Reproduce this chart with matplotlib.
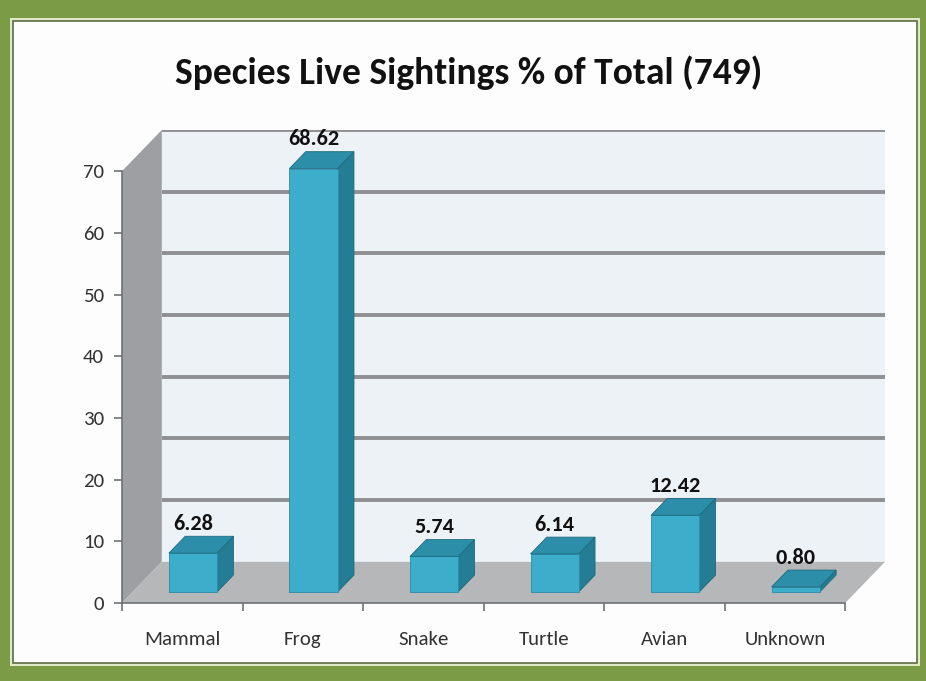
import matplotlib
matplotlib.use("Agg")
import matplotlib.pyplot as plt
from matplotlib.patches import Polygon, Rectangle

# donnees du graphique
categories = ["Mammal", "Frog", "Snake", "Turtle", "Avian", "Unknown"]
valeurs = [6.28, 68.62, 5.74, 6.14, 12.42, 0.80]
etiquettes = ["6.28", "68.62", "5.74", "6.14", "12.42", "0.80"]
graduations = [0, 10, 20, 30, 40, 50, 60, 70]
titre = "Species Live Sightings % of Total (749)"

plt.rcParams['font.family'] = ['Carlito', 'Liberation Sans Narrow', 'DejaVu Sans']

# profondeur de la perspective (en unites des axes)
ox, oy = 0.33, 6.67
ymax = graduations[-1]
n = len(categories)
f0, f1 = 0.27, 0.68     # position avant / arriere des barres dans la profondeur
demi = 0.2

fig = plt.figure(figsize=(9.26, 6.81), dpi=100)
fig.patch.set_facecolor('#7b9b46')

# cadre blanc interieur
fig.patches.append(Rectangle((10/926, 15/681), 910/926, 648/681, transform=fig.transFigure,
                             facecolor='#dfe9c9', edgecolor='none', zorder=-2))
fig.patches.append(Rectangle((13/926, 18/681), 904/926, 642/681, transform=fig.transFigure,
                             facecolor='#fdfdfd', edgecolor='#5d6b45', lw=1.2, zorder=-1))

ax = fig.add_axes([122/926, (681-603)/681, (885-122)/926, (603-130)/681])
ax.set_zorder(2)
ax.set_xlim(-0.5, n - 0.5 + ox)
ax.set_ylim(0, ymax + oy)
ax.set_facecolor('none')

# mur du fond
ax.add_patch(Polygon([(-0.5+ox, oy), (n-0.5+ox, oy), (n-0.5+ox, ymax+oy), (-0.5+ox, ymax+oy)],
                     closed=True, facecolor='#edf2f7', edgecolor='none', zorder=1))
for g in graduations[1:]:
    ax.plot([-0.5+ox, n-0.5+ox], [g+oy, g+oy], color='#8e9094', lw=2.8, zorder=2,
            solid_capstyle='butt')

# mur de gauche
ax.add_patch(Polygon([(-0.5, 0), (-0.5, ymax), (-0.5+ox, ymax+oy), (-0.5+ox, oy)],
                     closed=True, facecolor='#9d9fa2', edgecolor='none', zorder=3))
# sol
ax.add_patch(Polygon([(-0.5, 0), (n-0.5, 0), (n-0.5+ox, oy), (-0.5+ox, oy)],
                     closed=True, facecolor='#b5b7b9', edgecolor='none', zorder=3))

# barres 3D
for i, v in enumerate(valeurs):
    x0 = i - demi + f0*ox
    x1 = i + demi + f0*ox
    y0 = f0*oy
    dx = (f1 - f0)*ox
    dy = (f1 - f0)*oy
    cote = [(x1, y0), (x1+dx, y0+dy), (x1+dx, y0+dy+v), (x1, y0+v)]
    face = [(x0, y0), (x1, y0), (x1, y0+v), (x0, y0+v)]
    dessus = [(x0, y0+v), (x1, y0+v), (x1+dx, y0+dy+v), (x0+dx, y0+dy+v)]
    ax.add_patch(Polygon(cote, closed=True, facecolor='#247d94', edgecolor='#1d6a7e', lw=0.6, zorder=5))
    ax.add_patch(Polygon(face, closed=True, facecolor='#3dadcc', edgecolor='#2a8ca8', lw=0.6, zorder=5))
    ax.add_patch(Polygon(dessus, closed=True, facecolor='#2c8ea9', edgecolor='#1d6a7e', lw=0.6, zorder=5))
    ax.text((x0+x1)/2, y0+dy+v+0.4, etiquettes[i], ha='center', va='bottom',
            fontsize=16, fontweight='bold', color='#111111', zorder=6)

# axes
for s in ['top', 'right']:
    ax.spines[s].set_visible(False)
ax.spines['left'].set_bounds(0, ymax)
ax.spines['bottom'].set_bounds(-0.5, n-0.5)
for s in ['left', 'bottom']:
    ax.spines[s].set_color('#6f7174')
    ax.spines[s].set_linewidth(1.2)
    ax.spines[s].set_zorder(4)

ax.set_yticks(graduations)
ax.tick_params(axis='y', direction='out', length=6, width=1.2, color='#6f7174',
               labelsize=15, labelcolor='#333333', pad=7)
ax.set_xticks(range(n))
ax.set_xticklabels(categories)
ax.set_xticks([i - 0.5 for i in range(n+1)], minor=True)
ax.tick_params(axis='x', which='major', length=0, labelsize=15, labelcolor='#333333', pad=20)
ax.tick_params(axis='x', which='minor', direction='out', length=6, width=1.2, color='#6f7174')

fig.text(0.506, 0.893, titre, ha='center', va='center', fontsize=27, fontweight='bold',
         color='#111111')

fig.savefig('out.png', dpi=100, facecolor=fig.get_facecolor())
